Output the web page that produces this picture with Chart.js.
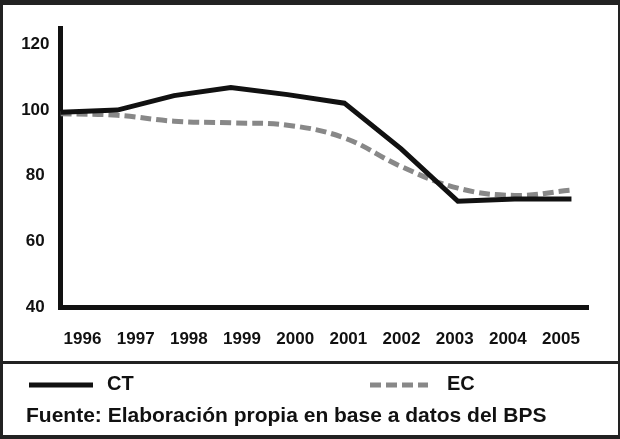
<!DOCTYPE html>
<html>
<head>
<meta charset="utf-8">
<script src="https://cdn.jsdelivr.net/npm/chart.js@4"></script>
<style>
  body { margin: 0; background: #fff; }
  #wrap { position: relative; width: 620px; height: 439px; overflow: hidden; }
  #chart { position: absolute; left: 0; top: 0; }
  .frame { position: absolute; left: 0; top: 0; width: 620px; height: 439px; box-sizing: border-box;
           border-style: solid; border-color: #222; border-width: 5px 2px 4px 3px; pointer-events: none; }
  .divider { position: absolute; left: 0; top: 361px; width: 620px; height: 3px; background: #222; }
  .leg { position: absolute; font: bold 20px "Liberation Sans", Arial, sans-serif; color: #111; }
  .src { position: absolute; left: 26px; top: 403px; font: bold 21px "Liberation Sans", Arial, sans-serif; color: #111; white-space: nowrap; }
  svg { position: absolute; left: 0; top: 0; }
</style>
</head>
<body>
<div id="wrap">
  <div id="chart"><canvas id="lineChart" width="620" height="362"></canvas></div>
  <svg width="620" height="439">
    <line x1="29" y1="385" x2="93" y2="385" stroke="#111" stroke-width="5"/>
    <line x1="370" y1="385" x2="428" y2="385" stroke="#888" stroke-width="5" stroke-dasharray="11 5"/>
  </svg>
  <div class="leg" style="left:107px; top:372px;">CT</div>
  <div class="leg" style="left:447px; top:372px;">EC</div>
  <div class="src">Fuente: Elaboración propia en base a datos del BPS</div>
  <div class="divider"></div>
  <div class="frame"></div>
</div>
<script>
const years = ['1996', '1997', '1998', '1999', '2000', '2001', '2002', '2003', '2004', '2005'];
const ctValues = [99.3, 100, 104.4, 106.9, 104.7, 102.1, 88.2, 72.2, 72.9, 72.9];
const ecValues = [98.9, 98.4, 96.6, 96.1, 95.4, 91.5, 82.8, 76.2, 74.0, 75.6];
const yTicks = [40, 60, 80, 100, 120];

const tickFont = { family: '"Liberation Sans", Arial, sans-serif', size: 17, weight: 'bold' };

function toPoints(values) {
    return values.map((v, i) => ({ x: i, y: v }));
}

document.addEventListener('DOMContentLoaded', () => {
    const ctx = document.getElementById('lineChart').getContext('2d');
    new Chart(ctx, {
        type: 'line',
        data: {
            datasets: [{
                label: 'CT',
                data: toPoints(ctValues),
                borderColor: '#111',
                borderWidth: 5,
                pointRadius: 0,
                tension: 0,
                borderJoinStyle: 'miter'
            }, {
                label: 'EC',
                data: toPoints(ecValues),
                borderColor: '#888',
                borderWidth: 5,
                borderDash: [11, 5],
                pointRadius: 0,
                tension: 0.4
            }]
        },
        options: {
            responsive: false,
            animation: false,
            layout: { padding: { left: 0, right: 31.5, top: 28, bottom: 12 } },
            plugins: { legend: { display: false }, tooltip: { enabled: false } },
            scales: {
                x: { type: 'linear', min: 0, max: 9.3, display: false },
                xl: {
                    type: 'linear', position: 'bottom', min: -0.414, max: 9.517,
                    grid: { display: false, drawTicks: false },
                    border: { display: true, width: 5, color: '#111' },
                    afterBuildTicks: (scale) => { scale.ticks = years.map((y, i) => ({ value: i })); },
                    afterFit: (scale) => { scale.height = 43; },
                    ticks: { color: '#111', font: tickFont, padding: 22, maxRotation: 0,
                             callback: (v) => years[v] }
                },
                y: {
                    min: 40, max: 125,
                    grid: { display: false, drawTicks: false },
                    border: { display: true, width: 5, color: '#111' },
                    afterBuildTicks: (scale) => { scale.ticks = yTicks.map(v => ({ value: v })); },
                    afterFit: (scale) => { scale.width = 60.5; },
                    ticks: { color: '#111', font: tickFont, padding: 11, crossAlign: 'center' }
                }
            }
        }
    });
});
</script>
</body>
</html>
